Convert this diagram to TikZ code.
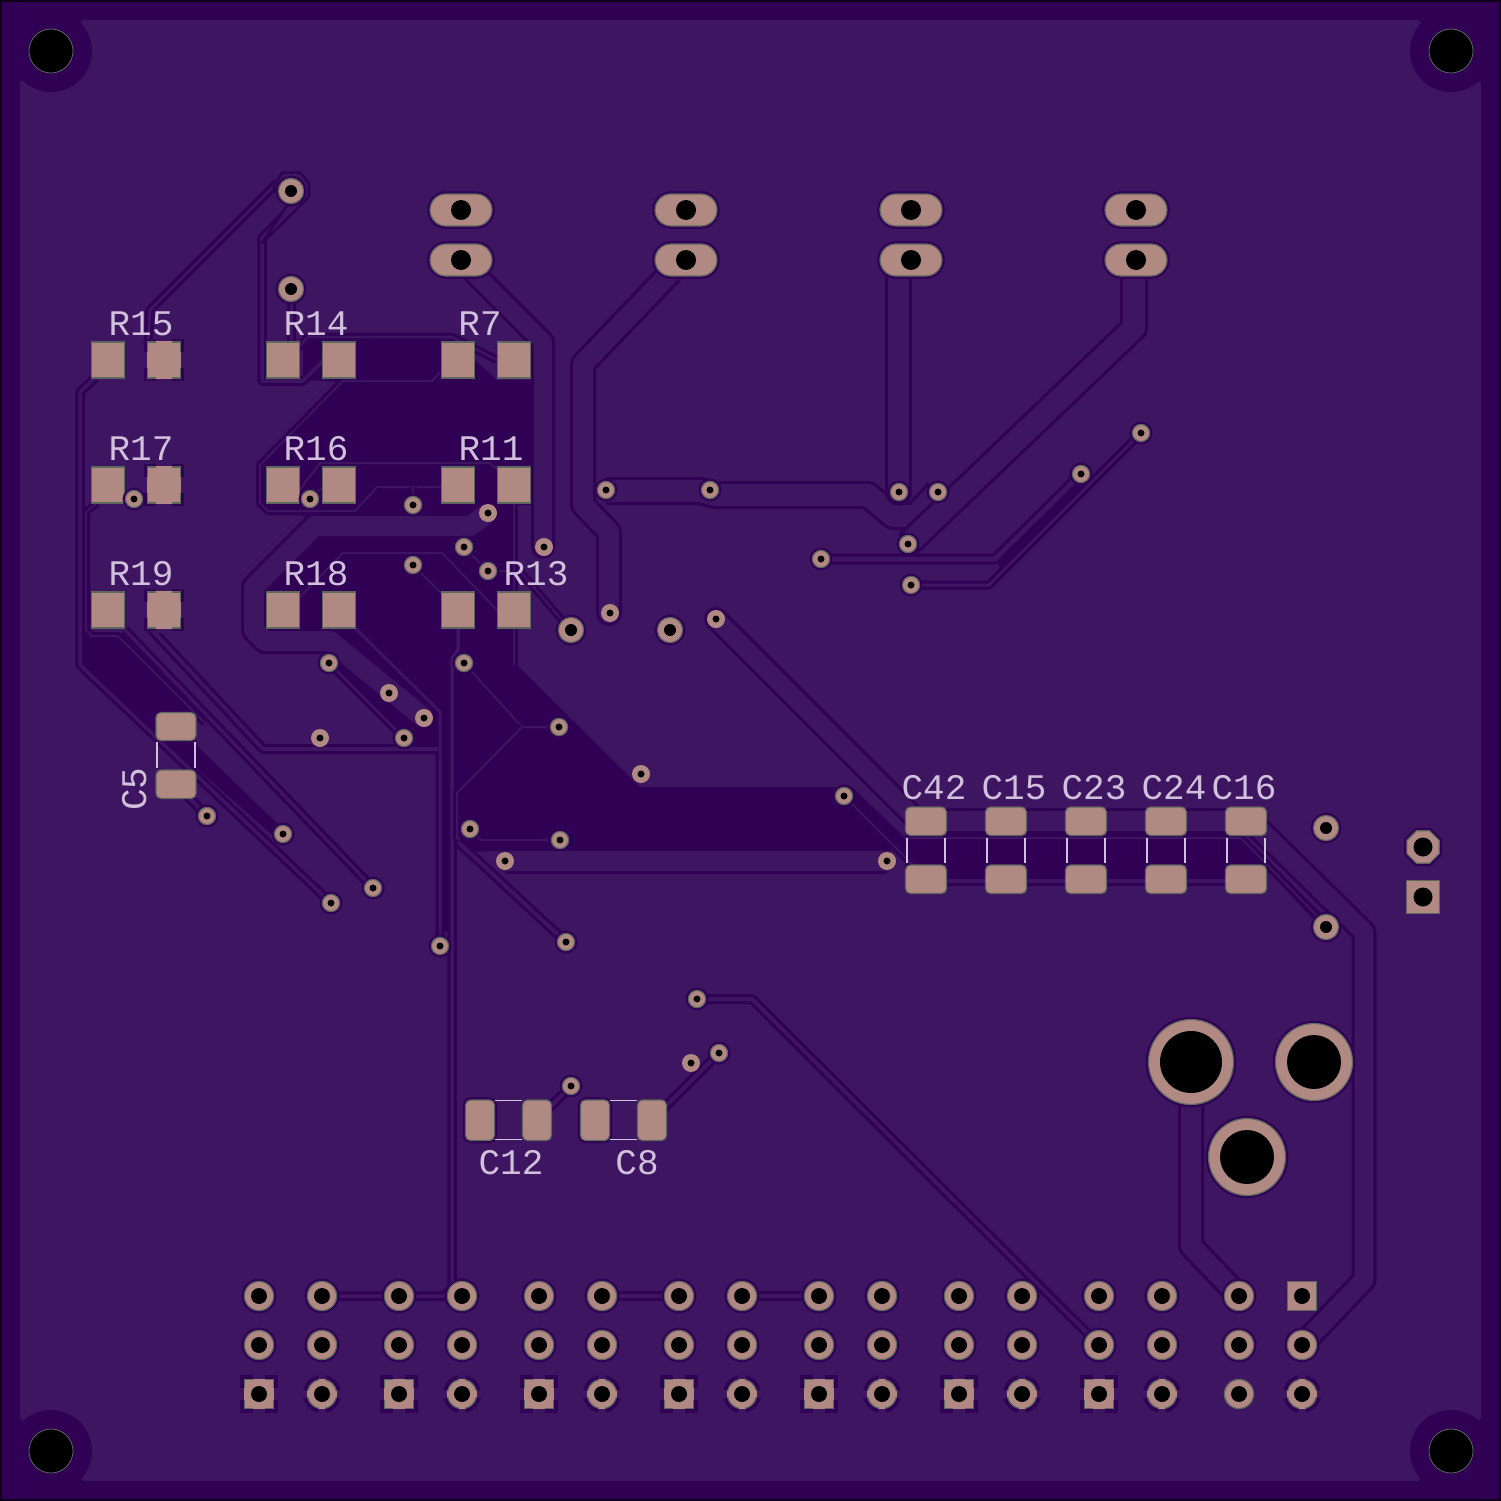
\documentclass[tikz,border=0pt]{standalone}
\usepackage{fontspec}
\newfontfamily\silkfont{Liberation Mono}
\definecolor{voidcol}{RGB}{48,0,84}
\definecolor{pourcol}{RGB}{62,21,96}
\definecolor{padcol}{RGB}{176,138,130}
\definecolor{edgecol}{RGB}{94,102,96}
\definecolor{silkcol}{RGB}{208,192,220}
\tikzset{
  trk/.style={draw=voidcol, line width=3, double=pourcol, double distance=#1, line join=round},
  trk/.default=3,
  smt/.style={fill=padcol, draw=edgecol, line width=1.2},
  copper/.style={smt, preaction={draw=voidcol, line width=5.5}},
  bare/.style={fill=padcol},
  hole/.style={fill=black},
  silk/.style={text=silkcol, font=\silkfont\fontsize{36}{36}\selectfont, inner sep=0pt, anchor=base},
  silkline/.style={draw=silkcol, line width=1.4},
}
\begin{document}
\begin{tikzpicture}[x=1pt,y=-1pt]
  \useasboundingbox (0,0) rectangle (1501,1501);
  \fill[voidcol] (0,0) rectangle (1501,1501);
  \draw[black!70!voidcol, line width=2.5] (1,1) rectangle (1500,1500);
  \fill[pourcol] (83,20) -- (1418,20) -- (1481,83) -- (1481,1418) -- (1418,1481) -- (83,1481) -- (20,1418) -- (20,83) -- cycle;
  % mounting holes
  \foreach \x in {51,1451} \foreach \y in {51,1451} {
    \fill[voidcol] (\x,\y) circle [radius=41];
    \draw[fill=black, draw=edgecol, line width=.8] (\x,\y) circle [radius=22];
  }
  % unpoured areas
  \fill[voidcol] (303,340) -- (452,340) -- (497,380) -- (533,380) -- (533,505) -- (517,505) -- (517,665)
    -- (640,787) -- (852,787) -- (905,838) -- (905,851) -- (495,851) -- (470,852) -- (457,840) -- (457,748)
    -- (412,748) -- (403,735) -- (333,668) -- (320,630) -- (265,630) -- (265,588) -- (318,536) -- (310,517)
    -- (267,511) -- (260,505) -- (260,467) -- (343,382) -- (303,380) -- cycle;
  \fill[voidcol] (85,636) -- (118,636) -- (196,714) -- (196,745) -- (282,828) -- (276,838) -- (170,745) -- (160,745) -- (85,668) -- cycle;
  \fill[voidcol] (905,838) -- (1241,838) -- (1326,918) -- (1314,920) -- (1269,872) -- (1262,878) -- (905,878) -- cycle;
  \fill[voidcol] (995,558) -- (1078,476) -- (1088,480) -- (1000,568) -- cycle;
  \fill[voidcol] (443,748) rectangle (449,932);
  % tracks
  \draw[trk=3] (291,191) -- (276,184) -- (150,310) -- (148,345);
  \draw[trk=3.5] (300,200) -- (262,238) -- (262,381) -- (303,381) -- (325,359);
  \draw[voidcol, fill=pourcol, line width=2.4, line join=round] (274,186) -- (282,172.5) -- (300,172.5) -- (309,183) -- (309,197) -- (262,243) -- (288,204) -- (275,190) -- cycle;
  \draw[trk=3] (291,289) -- (291,345);
  \draw[trk=2.5] (298,348) -- (308,337) -- (452,337) -- (497,360);
  \draw[trk=2] (440,372) -- (432,381) -- (343,381) -- (260,465) -- (260,503) -- (268,511) -- (355,511) -- (377,487) -- (445,487);
  \draw[trk=2] (413,487) -- (413,505);
  \draw[trk=2] (298,492) -- (320,463) -- (490,463) -- (500,472);
  \draw[trk=2] (310,499) -- (330,480);
  \draw[trk=2] (300,597) -- (343,553) -- (442,553) -- (497,610);
  \draw[trk=2] (413,565) -- (445,597);
  \draw[trk=2] (464,547) -- (488,571) -- (520,571) -- (567,626);
  \draw[trk=2] (514,500) -- (514,665);
  \draw[trk=18,line cap=round] (461,260) -- (543,342) -- (543,547);
  \draw[trk=20] (488,513) -- (470,526) -- (315,526) -- (254,587) -- (254,630) -- (265,641) -- (330,641) -- (424,718);
  \draw[trk=2.5] (329,663) -- (404,738);
  \draw[trk=3] (355,628) -- (440,712) -- (440,946);
  \draw[trk=3.5] (458,628) -- (458,650) -- (452,658) -- (452,1288) -- (444,1296) -- (322,1296);
  \draw[trk=2] (464,663) -- (522,727) -- (559,727);
  \draw[trk=2] (522,727) -- (457,793) -- (457,838) -- (470,850);
  \draw[trk=2] (470,829) -- (481,840) -- (560,840);
  \draw[trk=4] (458,842) -- (566,942);
  \draw[trk=20] (505,861) -- (887,861);
  \draw[trk=2] (844,796) -- (915,867);
  % left hand fan
  \draw[trk=3.5] (95,378) -- (80,392) -- (80,665) -- (331,903);
  \draw[trk=2] (97,503) -- (86,512) -- (86,630) -- (92,636) -- (118,636) -- (205,723);
  \draw[trk=3.5] (125,630) -- (373,888);
  \draw[trk=4] (150,628) -- (263,749) -- (438,749);
  \draw[trk=4] (176,784) -- (207,816);
  % upper right buses
  \draw[trk=20,line cap=round] (675,268) -- (583,364) -- (583,505) -- (609,532) -- (609,613);
  \draw[trk=22] (606,491) -- (700,491) -- (715,495) -- (868,495) -- (893,516) -- (915,516) -- (938,492);
  \draw[trk=21,line cap=round] (898.5,270) -- (898.5,492);
  \draw[trk=22] (1134,265) -- (1134,328) -- (908,544);
  \draw[trk=5] (821,559) -- (995,559) -- (1081,474);
  \draw[trk=3] (911,585) -- (989,585) -- (1141,433);
  \draw[trk=18,line cap=round] (716,619) -- (917,820);
  % capacitor row
  \draw[trk=20] (926,821) -- (1246,821);
  \draw[trk=4] (926,881) -- (1246,881);
  \draw[trk=2] (905,838) -- (1241,838) -- (1326,925);
  \draw[trk=19] (1250,820) -- (1364,932) -- (1364,1280) -- (1302,1345);
  \draw[trk=20] (1191,1080) -- (1191,1246) -- (1239,1296);
  % lower tracks
  \draw[trk=4] (697,999) -- (752,999) -- (1099,1345);
  \draw[trk=4] (719,1053) -- (652,1120);
  \draw[trk=4] (571,1086) -- (537,1120);
  \draw[trk=4] (602,1296) -- (679,1296);
  \draw[trk=4] (742,1296) -- (819,1296);
  % oval pads
  \foreach \x in {461,686,911,1136} \foreach \y in {210,260} {
    \draw[copper, rounded corners=16] (\x-31,\y-16) rectangle (\x+31,\y+16);
    \fill[hole] (\x,\y) circle [radius=10];
  }
  % resistors
  \foreach \x/\thm in {108/0,164/1,283/0,339/0,458/0,514/0} \foreach \y in {360,485,610} {
    \ifnum\thm=1
      \fill[voidcol] (\x-20,\y-21) rectangle (\x+20,\y+21);
      \fill[pourcol] (\x-8,\y-23) rectangle (\x+8,\y+23);
      \fill[pourcol] (\x-22,\y-8) rectangle (\x+22,\y+8);
      \draw[smt] (\x-16.5,\y-18) rectangle (\x+16.5,\y+18);
      \fill[padcol] (\x-8,\y-19) rectangle (\x+8,\y+19);
      \fill[padcol] (\x-17.3,\y-8) rectangle (\x+17.3,\y+8);
    \else
      \draw[smt] (\x-16.5,\y-18) rectangle (\x+16.5,\y+18);
    \fi
  }
  % capacitors
  \foreach \x in {926,1006,1086,1166,1246} {
    \draw[smt, rounded corners=5] (\x-20.5,807) rectangle (\x+20.5,835.5);
    \draw[smt, rounded corners=5] (\x-20.5,865) rectangle (\x+20.5,893.5);
    \draw[silkline] (\x-19,837.5) -- (\x-19,863) (\x+19,837.5) -- (\x+19,863);
  }
  \draw[smt, rounded corners=5] (156,712.5) rectangle (196,740.5);
  \draw[smt, rounded corners=5] (156,770) rectangle (196,798.5);
  \draw[silkline] (157,742) -- (157,768) (195,742) -- (195,768);
  \foreach \x in {480,595} {
    \draw[copper, rounded corners=5] (\x-14.5,1100) rectangle (\x+14.5,1140.5);
  }
  \foreach \x in {537,652} {
    \draw[smt, rounded corners=5] (\x-14.5,1100) rectangle (\x+14.5,1140.5);
  }
  \draw[silkline] (495,1100.5) -- (522,1100.5) (495,1139.5) -- (522,1139.5);
  \draw[silkline] (610,1100.5) -- (637,1100.5) (610,1139.5) -- (637,1139.5);
  % small vias
  \foreach \x/\y in {134/499,310/499,413/505,464/547,413/565,488/571,329/663,464/663,404/738,559/727,207/816,283/834,373/888,331/903,470/829,560/840,440/946,566/942,844/796,606/490,710/490,899/492,938/492,908/544,821/559,911/585,1081/474,1141/433,697/999,719/1053,571/1086} {
    \draw[copper] (\x,\y) circle [radius=8.6];
    \fill[hole] (\x,\y) circle [radius=3.5];
  }
  \foreach \x/\y in {488/513,544/547,389/693,424/718,320/738,641/774,505/861,887/861,691/1063,716/619,610/613} {
    \fill[bare] (\x,\y) circle [radius=9];
    \fill[hole] (\x,\y) circle [radius=3.5];
  }
  % larger vias
  \foreach \x/\y in {291/191,291/289,571/630,670/630,1326/828,1326/927} {
    \draw[copper] (\x,\y) circle [radius=12.6];
    \fill[hole] (\x,\y) circle [radius=6];
  }
  % jumper
  \draw[copper] (1423,847) +(22.5:17.5) -- +(67.5:17.5) -- +(112.5:17.5) -- +(157.5:17.5) -- +(202.5:17.5) -- +(247.5:17.5) -- +(292.5:17.5) -- +(337.5:17.5) -- cycle;
  \fill[hole] (1423,847) circle [radius=9.5];
  \draw[smt] (1406.5,880.5) rectangle (1439.5,913.5);
  \fill[hole] (1423,897) circle [radius=9.5];
  % big connector holes
  \draw[copper] (1191,1062) circle [radius=42.5];
  \fill[hole] (1191,1062) circle [radius=31];
  \foreach \x/\y in {1314/1062,1247/1157} {
    \draw[copper] (\x,\y) circle [radius=38.5];
    \fill[hole] (\x,\y) circle [radius=27];
  }
  % header
  \foreach \x/\u in {259/322,399/462,539/602,679/742,819/882,959/1022,1099/1162,1239/1302} {
    \foreach \y in {1296,1345} {
      \draw[copper] (\x,\y) circle [radius=14.6];
      \fill[hole] (\x,\y) circle [radius=8];
      \ifnum\u=1302 \ifnum\y=1296 \else
        \draw[copper] (\u,\y) circle [radius=14.6];
      \fi \else
        \draw[copper] (\u,\y) circle [radius=14.6];
      \fi
      \fill[hole] (\u,\y) circle [radius=8];
    }
    \fill[voidcol] (\u,1394) circle [radius=19];
    \fill[pourcol] (\u-4,1372) rectangle (\u+4,1416);
    \fill[pourcol] (\u-22,1390) rectangle (\u+22,1398);
    \draw[smt] (\u,1394) circle [radius=14.6];
    \fill[padcol] (\u-3,1379) rectangle (\u+3,1409);
    \fill[padcol] (\u-15,1391) rectangle (\u+15,1397);
    \fill[hole] (\u,1394) circle [radius=8];
    \ifnum\x=1239
      \draw[smt] (\x,1394) circle [radius=14.6];
    \else
      \fill[voidcol] (\x-19,1375) rectangle (\x+19,1413);
      \fill[pourcol] (\x-6,1372) rectangle (\x+6,1416);
      \fill[pourcol] (\x-22,1388) rectangle (\x+22,1400);
      \draw[smt] (\x-14.5,1379.5) rectangle (\x+14.5,1408.5);
      \fill[padcol] (\x-6,1379) rectangle (\x+6,1409);
      \fill[padcol] (\x-15,1388) rectangle (\x+15,1400);
    \fi
    \fill[hole] (\x,1394) circle [radius=8];
  }
  \draw[smt] (1287.5,1281.5) rectangle (1316.5,1310.5);
  \fill[hole] (1302,1296) circle [radius=8];
  % reference designators
  \node[silk] (r15) at (141,335) {R15};
  \node[silk] (r14) at (316,335) {R14};
  \node[silk] (r7)  at (480,335) {R7};
  \node[silk] (r17) at (141,460) {R17};
  \node[silk] (r16) at (316,460) {R16};
  \node[silk] (r11) at (491,460) {R11};
  \node[silk] (r19) at (141,585) {R19};
  \node[silk] (r18) at (316,585) {R18};
  \node[silk] (r13) at (536,585) {R13};
  \node[silk] (c42) at (934,799) {C42};
  \node[silk] (c15) at (1014,799) {C15};
  \node[silk] (c23) at (1094,799) {C23};
  \node[silk] (c24) at (1174,799) {C24};
  \node[silk] (c16) at (1244,799) {C16};
  \node[silk] (c12) at (511,1174) {C12};
  \node[silk] (c8)  at (637,1174) {C8};
  \node[silk, rotate=90] (c5) at (146,789) {C5};
\end{tikzpicture}
\end{document}
